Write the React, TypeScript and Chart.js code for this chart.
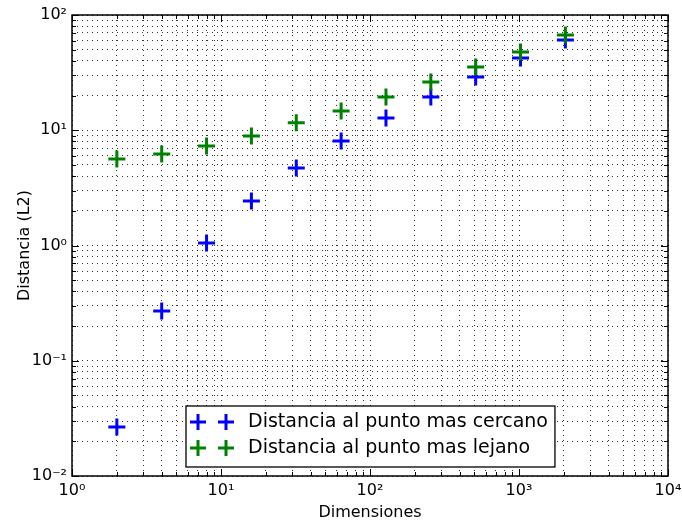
import React, { useEffect, useRef } from 'react';
import { Chart, registerables } from 'chart.js';

Chart.register(...registerables);

const dimensions = [2, 4, 8, 16, 32, 64, 128, 256, 512, 1024, 2048];
const nearestDistance = [0.0266, 0.27, 1.05, 2.43, 4.7, 8.07, 12.8, 19.4, 29.0, 42.4, 60.7];
const farthestDistance = [5.63, 6.22, 7.3, 8.91, 11.6, 14.7, 19.4, 26.2, 35.4, 47.7, 67.1];
const seriesLabels = ['Distancia al punto mas cercano', 'Distancia al punto mas lejano'];
const seriesColors = ['#0000ff', '#008000'];
const xDecades = [1, 10, 100, 1000, 10000];
const yDecades = [0.01, 0.1, 1, 10, 100];
const xTitle = 'Dimensiones';
const yTitle = 'Distancia (L2)';

const FONT = "'DejaVu Sans', sans-serif";

const SUP: Record<string, string> = {
  '-': '\u207B', '0': '\u2070', '1': '\u00B9', '2': '\u00B2', '3': '\u00B3',
  '4': '\u2074', '5': '\u2075', '6': '\u2076', '7': '\u2077', '8': '\u2078', '9': '\u2079',
};
const sup = (n: number) => String(n).split('').map((c) => SUP[c] || c).join('');

const logTicks = (decades: number[]) => {
  const out: number[] = [];
  for (let i = 0; i < decades.length - 1; i++) {
    for (let m = 1; m <= 9; m++) out.push(decades[i] * m);
  }
  out.push(decades[decades.length - 1]);
  return out;
};

const isDecade = (v: number) => {
  const e = Math.log10(v);
  return Math.abs(e - Math.round(e)) < 1e-6;
};

const decadeLabel = (v: number) => (isDecade(v) ? '10' + sup(Math.round(Math.log10(v))) : '');

const drawCross = (ctx: CanvasRenderingContext2D, x: number, y: number, r: number, color: string) => {
  ctx.save();
  ctx.strokeStyle = color;
  ctx.lineWidth = 3;
  ctx.beginPath();
  ctx.moveTo(x - r, y);
  ctx.lineTo(x + r, y);
  ctx.moveTo(x, y - r);
  ctx.lineTo(x, y + r);
  ctx.stroke();
  ctx.restore();
};

const framePlugin = {
  id: 'frameTicksLegend',
  afterDraw(chart: any) {
    const { ctx, chartArea } = chart;
    const { left, right, top, bottom } = chartArea;
    ctx.save();
    ctx.strokeStyle = '#000';
    ctx.lineWidth = 1;
    const xs = chart.scales.x;
    const ys = chart.scales.y;
    xs.ticks.forEach((t: any) => {
      const px = Math.round(xs.getPixelForValue(t.value)) + 0.5;
      const len = isDecade(t.value) ? 7 : 4;
      ctx.beginPath();
      ctx.moveTo(px, bottom);
      ctx.lineTo(px, bottom - len);
      ctx.moveTo(px, top);
      ctx.lineTo(px, top + len);
      ctx.stroke();
    });
    ys.ticks.forEach((t: any) => {
      const py = Math.round(ys.getPixelForValue(t.value)) + 0.5;
      const len = isDecade(t.value) ? 7 : 4;
      ctx.beginPath();
      ctx.moveTo(left, py);
      ctx.lineTo(left + len, py);
      ctx.moveTo(right, py);
      ctx.lineTo(right - len, py);
      ctx.stroke();
    });
    ctx.lineWidth = 1.5;
    ctx.strokeRect(left, top, right - left, bottom - top);

    const fontSize = 19;
    ctx.font = `${fontSize}px ${FONT}`;
    const boxX = 186;
    const boxY = 406;
    const rowH = 26;
    const textX = 248;
    const maxW = Math.max(...seriesLabels.map((l) => ctx.measureText(l).width));
    const boxW = textX - boxX + maxW + 7;
    const boxH = 61;
    ctx.fillStyle = '#fff';
    ctx.fillRect(boxX, boxY, boxW, boxH);
    ctx.lineWidth = 1.3;
    ctx.strokeStyle = '#000';
    ctx.strokeRect(boxX, boxY, boxW, boxH);
    seriesLabels.forEach((label, i) => {
      const cy = boxY + 16 + i * rowH;
      drawCross(ctx, 198, cy, 8, seriesColors[i]);
      drawCross(ctx, 226, cy, 8, seriesColors[i]);
      ctx.fillStyle = '#000';
      ctx.textBaseline = 'middle';
      ctx.textAlign = 'left';
      ctx.fillText(label, textX, cy);
    });
    ctx.restore();
  },
};

export default function App() {
  const canvasRef = useRef<HTMLCanvasElement | null>(null);

  useEffect(() => {
    if (!canvasRef.current) return;
    const xTickValues = logTicks(xDecades);
    const yTickValues = logTicks(yDecades);
    const series = [nearestDistance, farthestDistance];
    const gridOpts = { color: 'rgba(0,0,0,0.8)', lineWidth: 1, drawTicks: false };
    const chart = new Chart(canvasRef.current, {
      type: 'scatter',
      data: {
        datasets: series.map((vals, i) => ({
          label: seriesLabels[i],
          data: dimensions.map((d, j) => ({ x: d, y: vals[j] })),
          pointStyle: 'cross',
          pointRadius: 8.5,
          pointHoverRadius: 8.5,
          pointBorderWidth: 3,
          pointHoverBorderWidth: 3,
          borderColor: seriesColors[i],
          backgroundColor: seriesColors[i],
          showLine: false,
          order: 2 - i,
        })),
      },
      options: {
        responsive: false,
        animation: false,
        events: [],
        layout: { padding: { left: 0, top: 15, right: 14, bottom: 0 } },
        plugins: {
          legend: { display: false },
          tooltip: { enabled: false },
        },
        scales: {
          x: {
            type: 'logarithmic',
            min: xDecades[0],
            max: xDecades[xDecades.length - 1],
            afterBuildTicks: (scale: any) => {
              scale.ticks = xTickValues.map((v) => ({ value: v, major: isDecade(v) }));
            },
            afterFit: (scale: any) => {
              scale.height = 49;
              scale.paddingLeft = 0;
              scale.paddingRight = 0;
            },
            ticks: {
              autoSkip: false,
              maxRotation: 0,
              padding: 5,
              color: '#000',
              font: { family: FONT, size: 16 },
              callback: (v: any) => decadeLabel(Number(v)),
            },
            grid: gridOpts,
            border: { display: false, dash: [1, 4] },
            title: {
              display: true,
              text: xTitle,
              color: '#000',
              font: { family: FONT, size: 16 },
              padding: { top: 0, bottom: 3 },
            },
          },
          y: {
            type: 'logarithmic',
            min: yDecades[0],
            max: yDecades[yDecades.length - 1],
            afterBuildTicks: (scale: any) => {
              scale.ticks = yTickValues.map((v) => ({ value: v, major: isDecade(v) }));
            },
            afterFit: (scale: any) => {
              scale.width = 72;
              scale.paddingTop = 0;
              scale.paddingBottom = 0;
            },
            ticks: {
              autoSkip: false,
              padding: 5,
              color: '#000',
              font: { family: FONT, size: 16 },
              callback: (v: any) => decadeLabel(Number(v)),
            },
            grid: gridOpts,
            border: { display: false, dash: [1, 4] },
            title: {
              display: true,
              text: yTitle,
              color: '#000',
              font: { family: FONT, size: 16 },
              padding: { top: 15, bottom: 0 },
            },
          },
        },
      },
      plugins: [framePlugin],
    } as any);
    return () => chart.destroy();
  }, []);

  return (
    <div style={{ position: 'absolute', left: 0, top: 0, width: 682, height: 525, background: '#fff' }}>
      <canvas ref={canvasRef} width={682} height={525} />
    </div>
  );
}
